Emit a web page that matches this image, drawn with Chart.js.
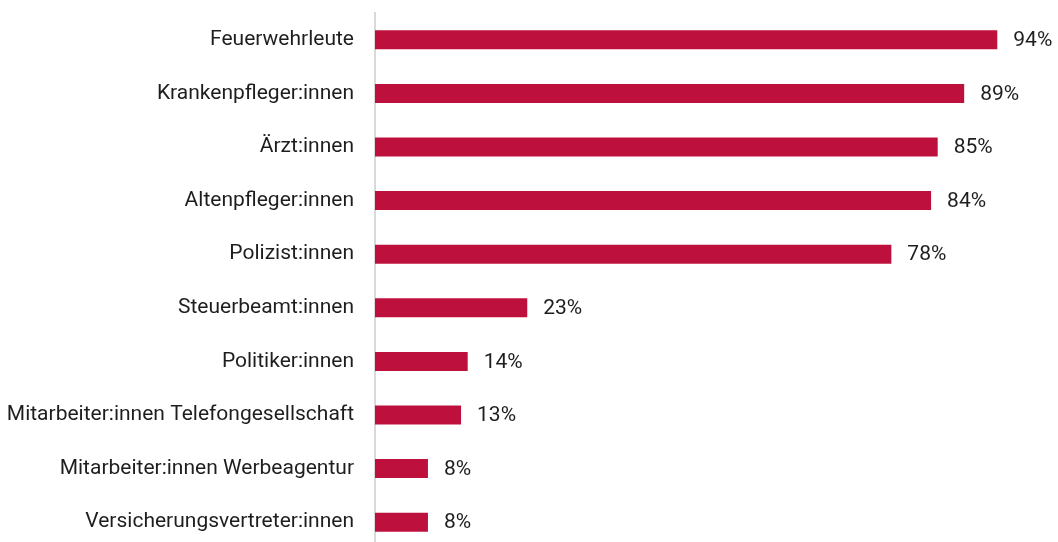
<!DOCTYPE html>
<html lang="de">
<head>
<meta charset="UTF-8">
<title>Berufe Vertrauen</title>
<script src="https://cdn.jsdelivr.net/npm/chart.js"></script>
<style>
    html, body { margin: 0; padding: 0; background: #fff; overflow: hidden; }
    canvas { display: block; }
</style>
</head>
<body>
<canvas id="chart" width="1058" height="550"></canvas>
<script>
    // data
    const categories = [
        'Feuerwehrleute',
        'Krankenpfleger:innen',
        'Ärzt:innen',
        'Altenpfleger:innen',
        'Polizist:innen',
        'Steuerbeamt:innen',
        'Politiker:innen',
        'Mitarbeiter:innen Telefongesellschaft',
        'Mitarbeiter:innen Werbeagentur',
        'Versicherungsvertreter:innen'
    ];
    const values = [94, 89, 85, 84, 78, 23, 14, 13, 8, 8];

    const FONT = 'Roboto, "Liberation Sans", sans-serif';

    // percent labels to the right of each bar
    const valueLabels = {
        id: 'valueLabels',
        afterDatasetsDraw(chart) {
            const ctx = chart.ctx;
            const meta = chart.getDatasetMeta(0);
            ctx.save();
            ctx.font = '21px ' + FONT;
            ctx.fillStyle = '#1e1e1e';
            ctx.textBaseline = 'middle';
            ctx.textAlign = 'left';
            meta.data.forEach((bar, i) => {
                ctx.fillText(values[i] + '%', bar.x + 16, bar.y + 1);
            });
            ctx.restore();
        }
    };

    new Chart(document.getElementById('chart').getContext('2d'), {
        type: 'bar',
        data: {
            labels: categories,
            datasets: [{
                data: values,
                backgroundColor: '#BE103D',
                borderWidth: 0,
                categoryPercentage: 1,
                barPercentage: 0.355
            }]
        },
        options: {
            indexAxis: 'y',
            responsive: false,
            animation: false,
            layout: { padding: { top: 13, bottom: 1, right: 21, left: 0 } },
            plugins: { legend: { display: false }, tooltip: { enabled: false } },
            scales: {
                x: {
                    min: 0,
                    max: 100,
                    display: false
                },
                y: {
                    grid: { display: false, drawTicks: false },
                    border: { display: true, color: '#d9d9d9', width: 2 },
                    ticks: {
                        color: '#1e1e1e',
                        padding: 21,
                        font: { family: FONT, size: 21 }
                    },
                    afterFit(scale) {
                        scale.width = 375;
                        scale.paddingTop = 0;
                        scale.paddingBottom = 0;
                    }
                }
            }
        },
        plugins: [valueLabels]
    });
</script>
</body>
</html>
